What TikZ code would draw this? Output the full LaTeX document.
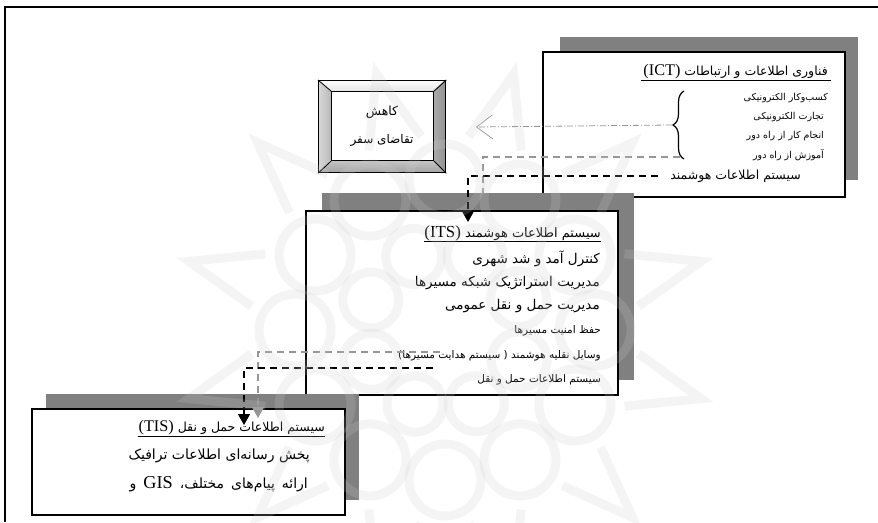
\documentclass[tikz,border=0pt]{standalone}
\usepackage{fontspec}
\usepackage{graphicx}
\usetikzlibrary{arrows.meta,decorations.pathreplacing,calc}
\TeXXeTstate=1
\newfontfamily\fa[Script=Arabic]{DejaVu Sans}
\newfontfamily\lat[Scale=1.3]{Liberation Serif}
\newcommand\rl[1]{\beginR #1\endR}
\newcommand\la[1]{\beginL{\lat #1}\endL}
\definecolor{shadowgray}{RGB}{128,128,128}
\definecolor{linegray}{RGB}{150,150,150}
\begin{document}
\begin{tikzpicture}[x=1pt,y=-1pt,
  shadowbox/.style={fill=shadowgray,draw=none,rectangle,inner sep=0pt,outer sep=0pt,anchor=north west},
  mainbox/.style={draw=black,line width=1.4pt,fill=white,rectangle,inner sep=0pt,outer sep=0pt,anchor=north west},
  txt/.style={anchor=east,inner sep=0pt},
  bigtxt/.style={txt,font=\fa\fontsize{13.5}{15}\selectfont},
  smalltxt/.style={txt,font=\fa\fontsize{10.5}{12}\selectfont},
  tinytxt/.style={txt,font=\fa\fontsize{9.5}{11}\selectfont},
  tisbody/.style={txt,font=\fa\fontsize{14}{16}\selectfont},
  blackdash/.style={draw=black,line width=1.5pt,dash pattern=on 7pt off 5pt},
  graydash/.style={draw=linegray,line width=1.3pt,dash pattern=on 7pt off 5pt},
  dashdot/.style={draw=linegray,line width=0.8pt,dash pattern=on 6pt off 2pt on 1pt off 2pt},
  uline/.style={draw=black,line width=0.8pt}]
\useasboundingbox (0,0) rectangle (878,522);
\fill[white] (0,0) rectangle (878,522);
% outer frame
\draw[line width=1.5pt] (878,7) -- (5,7) -- (5,522);

% ICT box
\node[shadowbox,minimum width=298pt,minimum height=143pt] (ictsh) at (560,37) {};
\node[mainbox,minimum width=302pt,minimum height=145pt] (ict) at (543,52) {};
\node[txt,font=\fa\fontsize{12.5}{15}\selectfont] (ictt) at (828,72) {\rl{فناوری اطلاعات و ارتباطات \la{(ICT)}}};
\draw[uline] ($(ictt.south west)+(-2,1)$) -- ($(ictt.south east)+(3,1)$);
\node[tinytxt] (i1) at (828,98) {\rl{کسب‌وکار الکترونیکی}};
\node[tinytxt] (i2) at (824,117) {\rl{تجارت الکترونیکی}};
\node[tinytxt] (i3) at (824,136) {\rl{انجام کار از راه دور}};
\node[tinytxt] (i4) at (824,155) {\rl{آموزش از راه دور}};
\node[txt,font=\fa\fontsize{12.5}{14}\selectfont] (icts) at (801,176) {\rl{سیستم اطلاعات هوشمند}};
\draw[line width=1.2pt,decorate,decoration={brace,amplitude=11pt}] (684,159) -- (684,91);
\coordinate (bt) at (672,125);
\coordinate (bb) at (680,157);

% Kahesh bevel box
\shade[top color=white,bottom color=gray!20] (318,80) -- (445,80) -- (433,91) -- (331,91) -- cycle;
\shade[left color=gray!30,right color=gray!55] (318,80) -- (331,91) -- (331,160) -- (318,172) -- cycle;
\shade[left color=gray!65,right color=gray!85] (445,80) -- (433,91) -- (433,160) -- (445,172) -- cycle;
\shade[top color=gray!45,bottom color=gray!70] (331,160) -- (433,160) -- (445,172) -- (318,172) -- cycle;
\node[draw=black,line width=1.3pt,rectangle,inner sep=0pt,anchor=north west,minimum width=127pt,minimum height=92pt] (kah) at (318,80) {};
\node[draw=black,line width=1.2pt,fill=white,rectangle,inner sep=0pt,anchor=north west,minimum width=102pt,minimum height=69pt] (kahin) at (331,91) {};
\draw[line width=0.8pt] (kah.north west) -- (kahin.north west) (kah.north east) -- (kahin.north east)
  (kah.south west) -- (kahin.south west) (kah.south east) -- (kahin.south east);
\node[inner sep=0pt,font=\fa\fontsize{12.5}{14}\selectfont] (k1) at (382,112) {\rl{کاهش}};
\node[inner sep=0pt,font=\fa\fontsize{12}{14}\selectfont] (k2) at (382,140) {\rl{تقاضای سفر}};
\coordinate (kt) at (476,127);
\draw[dashdot,-{Straight Barb[length=16pt,width=24pt,line width=0.7pt]}] (bt) -- (kt);

% gray dashed ICT -> ITS
\coordinate (g1) at (483,193);
\draw[graydash] (bb) -| (g1);

% ITS box
\node[shadowbox,minimum width=312pt,minimum height=187pt] (itssh) at (322,193) {};
\node[mainbox,minimum width=312pt,minimum height=184pt] (its) at (306,211) {};
\node[txt,font=\fa\fontsize{13}{15}\selectfont] (itst) at (601,233) {\rl{سیستم اطلاعات هوشمند \la{(ITS)}}};
\draw[uline] ($(itst.south west)+(0,1)$) -- ($(itst.south east)+(0,1)$);
\node[bigtxt] (s1) at (600,259) {\rl{کنترل آمد و شد شهری}};
\node[bigtxt] (s2) at (600,283) {\rl{مدیریت استراتژیک شبکه مسیرها}};
\node[bigtxt] (s3) at (600,306) {\rl{مدیریت حمل و نقل عمومی}};
\node[smalltxt] (s4) at (601,331) {\rl{حفظ امنیت مسیرها}};
\node[smalltxt] (s5) at (601,356) {\rl{وسایل نقلیه هوشمند ( سیستم هدایت مسیرها)}};
\node[smalltxt] (s6) at (601,380) {\rl{سیستم اطلاعات حمل و نقل}};

% TIS box
\node[shadowbox,minimum width=313pt,minimum height=106pt] (tissh) at (46,394) {};
\node[mainbox,minimum width=313pt,minimum height=106pt] (tis) at (32,409) {};
\node[txt,font=\fa\fontsize{12.5}{15}\selectfont] (tist) at (325,428) {\rl{سیستم اطلاعات حمل و نقل \la{(TIS)}}};
\draw[uline] ($(tist.south west)+(0,1)$) -- ($(tist.south east)+(0,1)$);
\node[tisbody] (t1) at (310,456) {\rl{پخش رسانه‌ای اطلاعات ترافیک}};
\node[tisbody] (t2) at (308,484) {\spaceskip=7pt plus 2pt\rl{ارائه پیام‌های مختلف، \la{GIS} و}};

% black dashed ICT -> ITS
\coordinate (b1) at (468,222);
\draw[blackdash,shorten <=12pt,-{Triangle[length=11pt,width=12pt]}] (icts.west) -| (b1);

% ITS -> TIS
\coordinate (gs) at (440,352);
\coordinate (tg) at (258,418);
\draw[graydash,-{Triangle[length=11pt,width=12pt]}] (gs) -| (tg);
\coordinate (bs) at (433,368);
\coordinate (tb) at (244,425);
\draw[blackdash,-{Triangle[length=11pt,width=12pt]}] (bs) -| (tb);

% watermark
\begin{scope}[shift={(445,330)},draw=gray!40,line width=9pt,opacity=0.2]
\foreach \a in {0,30,...,330} {
  \draw (\a:150) circle (36pt);
  \draw (\a+15-8:195) -- (\a+15:265) -- (\a+15+8:195);
}
\foreach \a in {0,45,...,315} {
  \draw (\a+22:80) circle (28pt);
}
\end{scope}
\end{tikzpicture}
\end{document}
